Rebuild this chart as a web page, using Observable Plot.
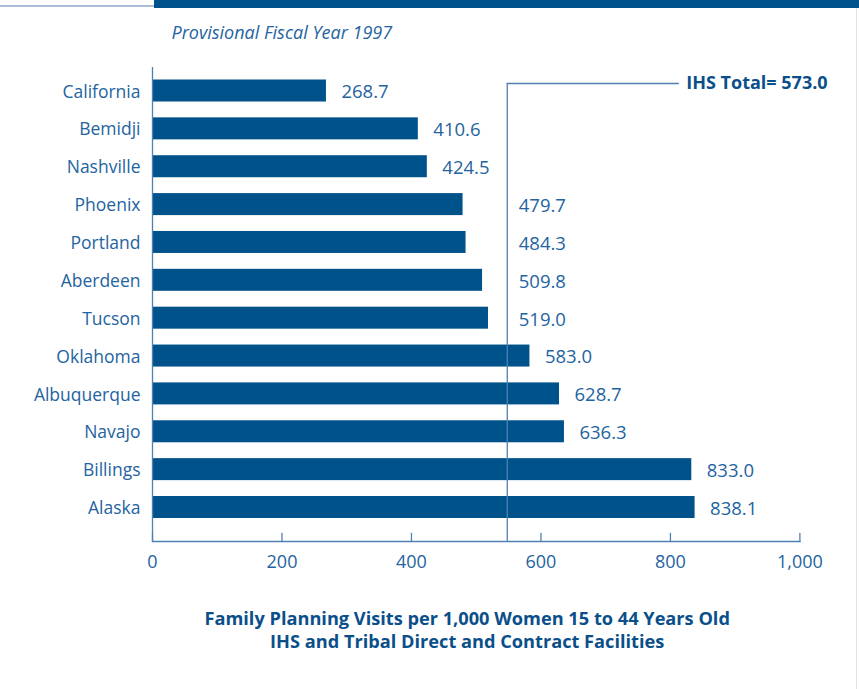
<!DOCTYPE html>
<html><head><meta charset="utf-8">
<script src="https://cdn.jsdelivr.net/npm/d3@7"></script>
<script src="https://cdn.jsdelivr.net/npm/@observablehq/plot@0.6"></script>
<style>
body{margin:0;background:#fff;}
#wrap{position:relative;width:859px;height:689px;overflow:hidden;}
#wrap svg{position:absolute;left:0;top:0;}
.deco{position:absolute;}
</style>
</head><body>
<div id="wrap">
  <div class="deco" style="left:154px;top:0;width:705px;height:8px;background:#00528a;"></div>
  <div class="deco" style="left:0;top:5px;width:154px;height:2px;background:#a9bed4;"></div>
  <div class="deco" style="left:856px;top:8px;width:1px;height:681px;background:#e2e2e2;"></div>
</div>
<script>
const regions = ["California","Bemidji","Nashville","Phoenix","Portland","Aberdeen","Tucson","Oklahoma","Albuquerque","Navajo","Billings","Alaska"];
const rates = [268.7,410.6,424.5,479.7,484.3,509.8,519.0,583.0,628.7,636.3,833.0,838.1];
const ihsTotal = 573.0;
const ihsLinePos = 548; // where the reference draws the total line
const xTicks = [0,200,400,600,800,1000];
const subtitle = "Provisional Fiscal Year 1997";
const titleLines = ["Family Planning Visits per 1,000 Women 15 to 44 Years Old","IHS and Tribal Direct and Contract Facilities"];

const W = 859, H = 689, mL = 152, mR = 59.6, mT = 67, mB = 148;
const ppu = (W - mL - mR) / 1000;
const barBlue = "#00528a", textBlue = "#2463a0", darkBlue = "#0b4f8a", lineBlue = "#4f80b2";
const font = "'Open Sans', sans-serif";

const data = regions.map((r, i) => ({region: r, value: rates[i]}));
// labels that would run into the total line are set just right of it
const pushed = d => d.value < ihsLinePos && (d.value * ppu + 15 + 48) > ihsLinePos * ppu;
const normalLabels = data.filter(d => !pushed(d));
const pushedLabels = data.filter(pushed);

const lineShape = {draw(ctx, l) { ctx.moveTo(0, 0); ctx.lineTo(0, -l); }};

const chart = Plot.plot({
  width: W, height: H,
  marginLeft: mL, marginRight: mR, marginTop: mT, marginBottom: mB,
  style: {fontFamily: font, background: "transparent", overflow: "visible"},
  x: {domain: [0, 1000]},
  y: {type: "band", domain: regions, range: [79.5, 518], paddingInner: 0.419, paddingOuter: 0, round: false},
  marks: [
    Plot.barX(data, {x: "value", y: "region", fill: barBlue}),
    Plot.ruleX([ihsLinePos], {x: d => d, insetTop: 16, stroke: lineBlue, strokeWidth: 1.3}),
    Plot.vector([ihsLinePos], {x: d => d, frameAnchor: "top", dy: 16, length: 171, rotate: 90, anchor: "start", shape: lineShape, stroke: lineBlue, strokeWidth: 1.5}),
    Plot.text([ihsTotal], {x: () => ihsLinePos, frameAnchor: "top", lineAnchor: "middle", dy: 15.5, dx: 179, textAnchor: "start", text: d => `IHS Total= ${d.toFixed(1)}`, fill: darkBlue, fontWeight: "bold", fontSize: 18}),
    Plot.ruleX([0], {x: d => d, stroke: lineBlue, strokeWidth: 1.3}),
    Plot.frame({anchor: "bottom", stroke: lineBlue, strokeWidth: 1.3}),
    Plot.vector(xTicks, {x: d => d, frameAnchor: "bottom", length: 8, rotate: 0, anchor: "start", shape: lineShape, stroke: lineBlue, strokeWidth: 1.3}),
    Plot.axisX(xTicks, {tickSize: 0, tickPadding: 14, fontSize: 18, color: textBlue, tickFormat: d3.format(","), label: null}),
    Plot.axisY({tickSize: 0, tickPadding: 12, fontSize: 17.5, dy: 1, color: textBlue, label: null}),
    Plot.text(normalLabels, {x: "value", y: "region", text: d => d.value.toFixed(1), dx: 15, dy: 1.5, textAnchor: "start", fill: textBlue, fontSize: 18.5}),
    Plot.text(pushedLabels, {x: () => ihsLinePos, y: "region", text: d => d.value.toFixed(1), dx: 11.5, dy: 1.5, textAnchor: "start", fill: textBlue, fontSize: 18.5}),
    Plot.text([subtitle], {frameAnchor: "top-left", lineAnchor: "middle", dx: 19, dy: -34, textAnchor: "start", text: d => d, fill: textBlue, fontStyle: "italic", fontSize: 18}),
    Plot.text([titleLines.join("\n")], {frameAnchor: "bottom", dx: -9, dy: 87.5, text: d => d, lineAnchor: "middle", lineHeight: 1.28, fill: darkBlue, fontWeight: "bold", fontSize: 18.2})
  ]
});
document.getElementById("wrap").prepend(chart);
</script>
</body></html>
